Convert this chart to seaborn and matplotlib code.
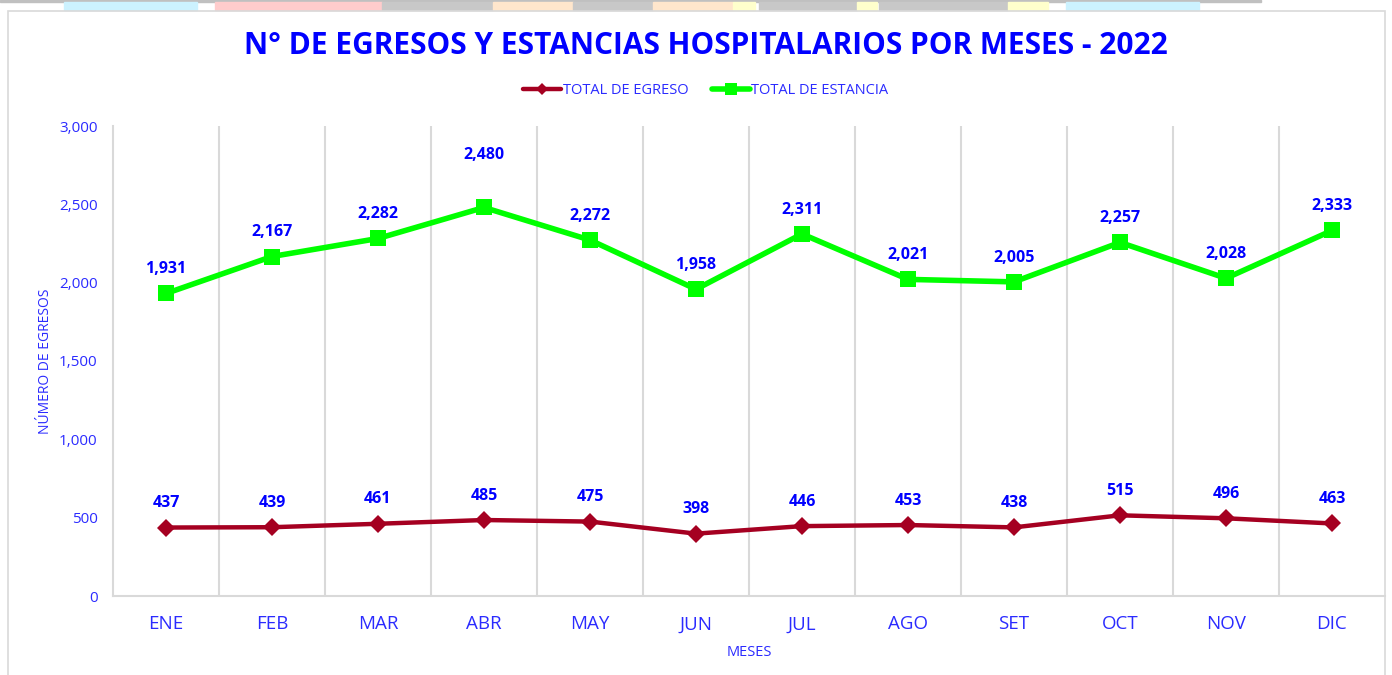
import numpy as np
import pandas as pd
import matplotlib
matplotlib.use("Agg")
import matplotlib.pyplot as plt
import seaborn as sns
from matplotlib.patches import Rectangle

# datos del gráfico
meses = ["ENE", "FEB", "MAR", "ABR", "MAY", "JUN", "JUL", "AGO", "SET", "OCT", "NOV", "DIC"]
total_egreso = [437, 439, 461, 485, 475, 398, 446, 453, 438, 515, 496, 463]
total_estancia = [1931, 2167, 2282, 2480, 2272, 1958, 2311, 2021, 2005, 2257, 2028, 2333]
series = ["TOTAL DE EGRESO", "TOTAL DE ESTANCIA"]
y_ticks = [0, 500, 1000, 1500, 2000, 2500, 3000]

df = pd.DataFrame({
    "mes": meses * 2,
    "serie": [series[0]] * len(meses) + [series[1]] * len(meses),
    "valor": total_egreso + total_estancia,
})

sns.set_style("white")
plt.rcParams['font.family'] = ['Open Sans', 'DejaVu Sans']

AZUL = "#0000FF"
AZUL_T = "#2B2BFF"
ROJO = "#A50021"
VERDE = "#00FF00"
GRIS = "#D9D9D9"

fig = plt.figure(figsize=(13.92, 6.75), dpi=100)

# franja superior (restos de la hoja de cálculo)
fig.patches.append(Rectangle((0, 1 - 2 / 675), 1261 / 1392, 2 / 675, transform=fig.transFigure,
                             color="#C0C0C0", zorder=0))
franjas = [(64, 197, "#CCF2FF"), (215, 382, "#FFCCCC"), (382, 493, "#C8C8C8"), (493, 573, "#FFE6CC"),
           (573, 653, "#C8C8C8"), (653, 733, "#FFE6CC"), (733, 755, "#FFFFCC"), (759, 857, "#C8C8C8"),
           (857, 877, "#FFFFCC"), (879, 1008, "#C8C8C8"), (1008, 1048, "#FFFFCC"), (1066, 1199, "#CCF2FF")]
for x0, x1, c in franjas:
    fig.patches.append(Rectangle((x0 / 1392, 1 - 10 / 675), (x1 - x0) / 1392, 8 / 675,
                                 transform=fig.transFigure, color=c, zorder=0))
# marco del gráfico
fig.patches.append(Rectangle((8 / 1392, -0.01), 1377 / 1392, 1 - 11 / 675 + 0.01, transform=fig.transFigure,
                             fill=False, edgecolor=GRIS, linewidth=1.2, zorder=0))

ax = fig.add_axes([113 / 1392, 1 - 596 / 675, 1272 / 1392, 470 / 675])

sns.lineplot(
    data=df, x="mes", y="valor", hue="serie", style="serie",
    palette={series[0]: ROJO, series[1]: VERDE},
    markers={series[0]: "D", series[1]: "s"},
    dashes=False, ax=ax, legend=False, sort=False,
)
lineas = ax.get_lines()
lineas[0].set_linewidth(3.2)
lineas[0].set_markersize(9)
lineas[1].set_linewidth(4)
lineas[1].set_markersize(12)
for ln in lineas:
    ln.set_markeredgewidth(0)

# etiquetas de datos (la de ABR está movida a mano más arriba en el original)
desplaz_extra = {"ABR": 20}
for i, v in enumerate(total_egreso):
    ax.annotate(f"{v:,}", (i, v), textcoords="offset points", xytext=(0, 17.5),
                ha="center", va="center", fontsize=11.5, fontweight="bold", color=AZUL)
for i, v in enumerate(total_estancia):
    dy = 17.5 + desplaz_extra.get(meses[i], 0)
    ax.annotate(f"{v:,}", (i, v), textcoords="offset points", xytext=(0, dy),
                ha="center", va="center", fontsize=11.5, fontweight="bold", color=AZUL)

ax.set_xlim(-0.5, len(meses) - 0.5)
ax.set_ylim(0, 3000)
ax.set_yticks(y_ticks)
ax.set_yticklabels([f"{t:,}" for t in y_ticks], color=AZUL_T, fontsize=11)
ax.set_xticks(range(len(meses)))
ax.set_xticklabels(meses, color=AZUL_T, fontsize=13.5)
ax.set_xticks(np.arange(0.5, len(meses) - 0.5, 1), minor=True)
ax.grid(True, which="minor", axis="x", color=GRIS, linewidth=1.5)
ax.tick_params(axis="both", which="both", length=0)
ax.tick_params(axis="x", pad=14)
ax.tick_params(axis="y", pad=11)

for s in ["top", "right"]:
    ax.spines[s].set_visible(False)
for s in ["left", "bottom"]:
    ax.spines[s].set_color(GRIS)
    ax.spines[s].set_linewidth(1.5)

ax.set_xlabel("MESES", color=AZUL_T, fontsize=10.5, labelpad=8)
ax.set_ylabel("NÚMERO DE EGRESOS", color=AZUL_T, fontsize=10, labelpad=6)
ax.yaxis.set_label_coords(-0.047, 0.5)

fig.text(0.507, 1 - 46 / 675, "N° DE EGRESOS Y ESTANCIAS HOSPITALARIOS POR MESES - 2022",
         ha="center", va="center", fontsize=21.5, fontweight="bold", color=AZUL)

# leyenda
handles = [
    plt.Line2D([], [], color=ROJO, marker="D", markersize=6, linewidth=3.2, markeredgewidth=0),
    plt.Line2D([], [], color=VERDE, marker="s", markersize=8, linewidth=4, markeredgewidth=0),
]
leg = fig.legend(handles, series, loc="center", bbox_to_anchor=(0.507, 1 - 91 / 675), ncol=2,
                 frameon=False, fontsize=10.5, handlelength=2.6, handletextpad=0.1, columnspacing=1.6)
for t in leg.get_texts():
    t.set_color(AZUL_T)

plt.savefig("out.png", dpi=100)
plt.close()
